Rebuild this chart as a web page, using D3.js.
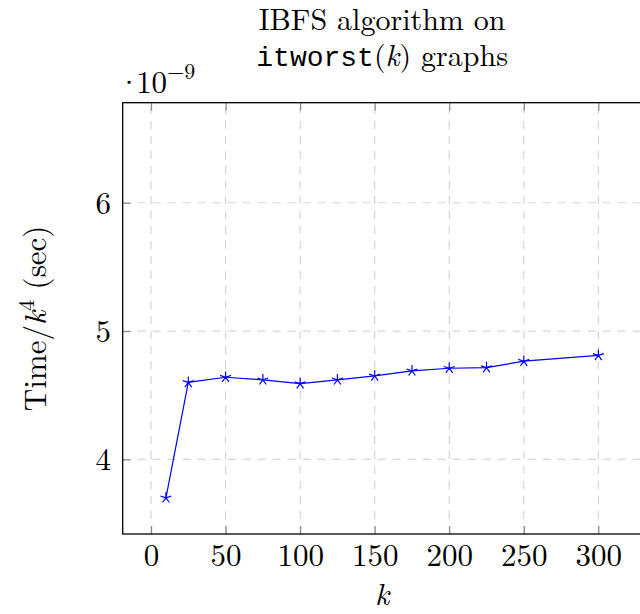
<!DOCTYPE html>
<html>
<head>
<meta charset="utf-8">
<script src="https://cdn.jsdelivr.net/npm/d3@7"></script>
<style>
    body { margin: 0; background: #fff; }
    svg text { font-family: "Latin Modern Roman", "CMU Serif", "Liberation Serif", serif; fill: #000; }
    .mono { font-family: "Liberation Mono", monospace; }
</style>
</head>
<body>
<div id="chart"></div>
<script>
// k values and measured Time/k^4 (in units of 1e-9 sec)
let kValues = [10, 25, 50, 75, 100, 125, 150, 175, 200, 225, 250, 300];
let timeValues = [3.70, 4.60, 4.64, 4.62, 4.59, 4.62, 4.65, 4.69, 4.71, 4.715, 4.765, 4.81];
let xTicks = [0, 50, 100, 150, 200, 250, 300];
let yTicks = [4, 5, 6];

let fs = 31;
let margin = {top: 102.7, right: -1.6, bottom: 80, left: 122.7};
let width = 640 - margin.left - margin.right;
let height = 614 - margin.top - margin.bottom;

let svg = d3.select("#chart").append("svg")
    .attr("width", 640)
    .attr("height", 614);

let g = svg.append("g")
    .attr("transform", `translate(${margin.left}, ${margin.top})`);

let x = d3.scaleLinear().domain([-19, 329]).range([0, width]);
let y = d3.scaleLinear().domain([3.418, 6.78]).range([height, 0]);

// grid
g.selectAll(".vgrid").data(xTicks).enter().append("line")
    .attr("x1", d => x(d)).attr("x2", d => x(d))
    .attr("y1", height).attr("y2", 0)
    .attr("stroke", "#d6d6d6").attr("stroke-width", 1.2)
    .attr("stroke-dasharray", "8,7");

g.selectAll(".hgrid").data(yTicks).enter().append("line")
    .attr("x1", 0).attr("x2", width)
    .attr("y1", d => y(d)).attr("y2", d => y(d))
    .attr("stroke", "#d6d6d6").attr("stroke-width", 1.2)
    .attr("stroke-dasharray", "8,7");

// axes, ticks pointing inward
let tickLen = 8;
let xAxis = d3.axisBottom(x).tickValues(xTicks).tickFormat(d3.format("d")).tickSizeInner(-tickLen).tickSizeOuter(0);
let yAxis = d3.axisLeft(y).tickValues(yTicks).tickFormat(d3.format("d")).tickSizeInner(-tickLen).tickSizeOuter(0);

let xg = g.append("g").attr("transform", `translate(0, ${height})`).call(xAxis);
let yg = g.append("g").call(yAxis);
g.append("g").call(d3.axisTop(x).tickValues(xTicks).tickSizeInner(-tickLen).tickSizeOuter(0).tickFormat(""));

g.selectAll(".domain").remove();
g.selectAll(".tick line").attr("stroke", "#8c8c8c").attr("stroke-width", 1.2);
g.selectAll(".tick text").style("font-size", fs + "px").attr("fill", "#000");
xg.selectAll(".tick text").attr("y", 32).attr("dy", 0);
yg.selectAll(".tick text").attr("x", -11.7).attr("dy", "0.34em");

// frame
g.append("rect")
    .attr("x", 0).attr("y", 0)
    .attr("width", width).attr("height", height)
    .attr("fill", "none").attr("stroke", "#000").attr("stroke-width", 1.3);

// data line
let line = d3.line().x((d, i) => x(kValues[i])).y(d => y(d));
g.append("path")
    .datum(timeValues)
    .attr("d", line)
    .attr("fill", "none")
    .attr("stroke", "#0000ff")
    .attr("stroke-width", 1.2);

// star markers (5 spokes)
let r = 5.8;
let starPath = d3.range(5).map(i => {
    let a = (90 + i * 72) * Math.PI / 180;
    return `M0,0L${(r * Math.cos(a)).toFixed(2)},${(-r * Math.sin(a)).toFixed(2)}`;
}).join("");
g.selectAll(".mark").data(timeValues).enter().append("path")
    .attr("transform", (d, i) => `translate(${x(kValues[i])}, ${y(d)})`)
    .attr("d", starPath)
    .attr("fill", "none")
    .attr("stroke", "#0000ff")
    .attr("stroke-width", 1.2);

// scale label
let sc = svg.append("text").attr("x", 117).attr("y", 93).style("font-size", fs + "px");
sc.append("tspan").text("·");
sc.append("tspan").attr("dx", -5).text("10");
sc.append("tspan").attr("dy", -14).style("font-size", "22px").text("−9");

// title (one text element, two lines)
let cx = margin.left + width / 2;
let tfs = 30;
let title = svg.append("text").attr("text-anchor", "middle").style("font-size", tfs + "px");
title.append("tspan").attr("x", cx).attr("y", 30).text("IBFS algorithm on");
title.append("tspan").attr("x", cx).attr("y", 66).attr("class", "mono").style("font-size", "28px").text("itworst");
title.append("tspan").text("(");
title.append("tspan").style("font-style", "italic").text("k");
title.append("tspan").text(") graphs");

// axis labels
svg.append("text").attr("x", cx).attr("y", 605).attr("text-anchor", "middle")
    .style("font-size", fs + "px").style("font-style", "italic").text("k");

let yl = svg.append("text")
    .attr("transform", `translate(46, ${margin.top + height / 2}) rotate(-90)`)
    .attr("text-anchor", "middle")
    .style("font-size", fs + "px");
yl.append("tspan").text("Time/");
yl.append("tspan").style("font-style", "italic").text("k");
yl.append("tspan").attr("dy", -12).style("font-size", "22px").text("4");
yl.append("tspan").attr("dy", 12).text(" (sec)");
</script>
</body>
</html>
